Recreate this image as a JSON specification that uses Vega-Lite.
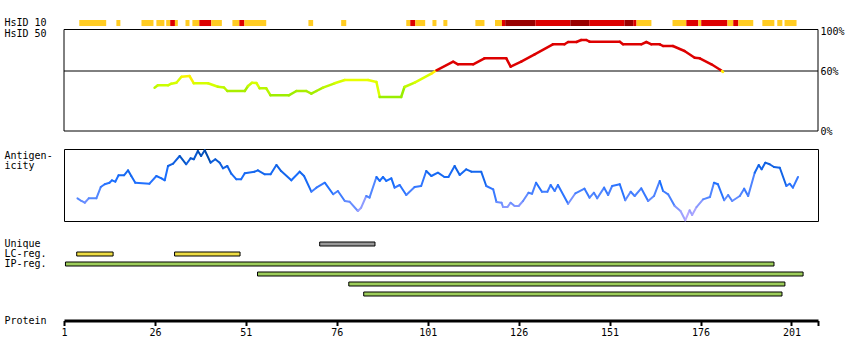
{
  "$schema": "https://vega.github.io/schema/vega-lite/v6.json",
  "padding": {"left": 3, "top": 17, "right": 2, "bottom": 2},
  "bounds": "flush",
  "spacing": 18,
  "datasets": {
    "hsid10": [
      {"track": "HsID 10", "from": 5.2, "to": 12.6, "level": "medium"},
      {"track": "HsID 10", "from": 15.4, "to": 16.5, "level": "medium"},
      {"track": "HsID 10", "from": 22.3, "to": 25.6, "level": "medium"},
      {"track": "HsID 10", "from": 26.4, "to": 28.6, "level": "medium"},
      {"track": "HsID 10", "from": 29.1, "to": 30.2, "level": "medium"},
      {"track": "HsID 10", "from": 30.2, "to": 31.5, "level": "high"},
      {"track": "HsID 10", "from": 31.5, "to": 32.3, "level": "medium"},
      {"track": "HsID 10", "from": 34.4, "to": 35.5, "level": "medium"},
      {"track": "HsID 10", "from": 36.3, "to": 38.2, "level": "medium"},
      {"track": "HsID 10", "from": 38.2, "to": 41.5, "level": "high"},
      {"track": "HsID 10", "from": 41.5, "to": 44.4, "level": "medium"},
      {"track": "HsID 10", "from": 47.3, "to": 49.2, "level": "medium"},
      {"track": "HsID 10", "from": 49.2, "to": 50.6, "level": "high"},
      {"track": "HsID 10", "from": 50.6, "to": 56.6, "level": "medium"},
      {"track": "HsID 10", "from": 68.2, "to": 69.5, "level": "medium"},
      {"track": "HsID 10", "from": 77.2, "to": 78.6, "level": "medium"},
      {"track": "HsID 10", "from": 95.1, "to": 96.2, "level": "medium"},
      {"track": "HsID 10", "from": 96.2, "to": 97.6, "level": "high"},
      {"track": "HsID 10", "from": 97.6, "to": 100.3, "level": "medium"},
      {"track": "HsID 10", "from": 102.3, "to": 103.4, "level": "medium"},
      {"track": "HsID 10", "from": 105.3, "to": 106.4, "level": "medium"},
      {"track": "HsID 10", "from": 114.1, "to": 116.6, "level": "medium"},
      {"track": "HsID 10", "from": 119.5, "to": 121.4, "level": "medium"},
      {"track": "HsID 10", "from": 121.4, "to": 122.3, "level": "high"},
      {"track": "HsID 10", "from": 122.3, "to": 130.6, "level": "very high"},
      {"track": "HsID 10", "from": 130.6, "to": 140.2, "level": "high"},
      {"track": "HsID 10", "from": 140.2, "to": 145.4, "level": "very high"},
      {"track": "HsID 10", "from": 145.4, "to": 155.1, "level": "high"},
      {"track": "HsID 10", "from": 155.1, "to": 157.5, "level": "very high"},
      {"track": "HsID 10", "from": 157.5, "to": 158.4, "level": "high"},
      {"track": "HsID 10", "from": 158.4, "to": 162.5, "level": "medium"},
      {"track": "HsID 10", "from": 168.3, "to": 172.1, "level": "medium"},
      {"track": "HsID 10", "from": 172.1, "to": 175.4, "level": "high"},
      {"track": "HsID 10", "from": 175.4, "to": 176.2, "level": "medium"},
      {"track": "HsID 10", "from": 176.2, "to": 183.4, "level": "high"},
      {"track": "HsID 10", "from": 183.4, "to": 185.0, "level": "medium"},
      {"track": "HsID 10", "from": 185.0, "to": 186.4, "level": "high"},
      {"track": "HsID 10", "from": 186.4, "to": 190.5, "level": "medium"},
      {"track": "HsID 10", "from": 193.0, "to": 196.3, "level": "medium"},
      {"track": "HsID 10", "from": 197.1, "to": 198.5, "level": "medium"},
      {"track": "HsID 10", "from": 199.1, "to": 202.4, "level": "medium"}
    ],
    "hsid50": [
      {"r": 25.9, "v": 43.3}, {"r": 26.8, "v": 45.7}, {"r": 29.6, "v": 45.7}, {"r": 30.5, "v": 47.3},
      {"r": 31.9, "v": 48.3}, {"r": 33.3, "v": 54.3}, {"r": 35.5, "v": 55.0}, {"r": 36.7, "v": 47.7},
      {"r": 40.6, "v": 47.7}, {"r": 43.3, "v": 44.3}, {"r": 45.0, "v": 43.5}, {"r": 45.9, "v": 40.0},
      {"r": 50.7, "v": 40.0}, {"r": 51.6, "v": 45.0}, {"r": 52.7, "v": 48.3}, {"r": 53.9, "v": 48.0},
      {"r": 54.8, "v": 42.7}, {"r": 56.6, "v": 42.7}, {"r": 57.8, "v": 35.7}, {"r": 62.8, "v": 35.7},
      {"r": 64.9, "v": 40.0}, {"r": 67.6, "v": 40.0}, {"r": 69.0, "v": 37.3}, {"r": 70.4, "v": 40.0},
      {"r": 72.2, "v": 43.3}, {"r": 75.4, "v": 47.7}, {"r": 78.2, "v": 51.0}, {"r": 84.6, "v": 51.0},
      {"r": 86.9, "v": 49.0}, {"r": 87.8, "v": 34.0}, {"r": 93.7, "v": 34.0}, {"r": 94.6, "v": 44.0},
      {"r": 97.4, "v": 48.3}, {"r": 102.0, "v": 57.3}, {"r": 103.4, "v": 60.7}, {"r": 108.0, "v": 69.3},
      {"r": 109.3, "v": 66.7}, {"r": 113.5, "v": 66.7}, {"r": 116.6, "v": 72.7}, {"r": 122.6, "v": 72.7},
      {"r": 123.8, "v": 64.3}, {"r": 126.7, "v": 69.3}, {"r": 130.4, "v": 76.7}, {"r": 135.4, "v": 86.7},
      {"r": 138.6, "v": 86.7}, {"r": 139.6, "v": 89.0}, {"r": 141.9, "v": 89.0}, {"r": 143.2, "v": 91.0},
      {"r": 144.6, "v": 91.0}, {"r": 145.5, "v": 89.3}, {"r": 153.8, "v": 89.3}, {"r": 154.7, "v": 86.7},
      {"r": 159.7, "v": 86.7}, {"r": 161.1, "v": 89.0}, {"r": 162.5, "v": 86.7}, {"r": 164.8, "v": 86.7},
      {"r": 165.7, "v": 85.0}, {"r": 168.4, "v": 85.0}, {"r": 171.6, "v": 80.0}, {"r": 174.4, "v": 73.3},
      {"r": 175.8, "v": 72.7}, {"r": 179.0, "v": 66.7}, {"r": 181.5, "v": 61.0}, {"r": 181.9, "v": 60.0},
      {"r": 182.2, "v": 59.0}
    ],
    "antigen": [
      {"r": 4.7, "a": 31.5}, {"r": 5.8, "a": 27.8}, {"r": 6.7, "a": 25.4}, {"r": 7.8, "a": 31.5},
      {"r": 9.9, "a": 31.5}, {"r": 11.1, "a": 47.2}, {"r": 12.2, "a": 51.0}, {"r": 13.5, "a": 53.2},
      {"r": 14.2, "a": 56.5}, {"r": 15.1, "a": 54.6}, {"r": 16.0, "a": 63.5}, {"r": 17.5, "a": 63.5},
      {"r": 18.6, "a": 70.4}, {"r": 19.5, "a": 62.5}, {"r": 20.6, "a": 53.2}, {"r": 24.5, "a": 51.8},
      {"r": 26.4, "a": 62.5}, {"r": 27.8, "a": 59.3}, {"r": 28.7, "a": 56.5}, {"r": 29.6, "a": 76.4},
      {"r": 31.0, "a": 79.6}, {"r": 32.8, "a": 90.3}, {"r": 34.6, "a": 78.8}, {"r": 35.8, "a": 87.1},
      {"r": 36.7, "a": 85.7}, {"r": 37.8, "a": 97.2}, {"r": 38.7, "a": 90.3}, {"r": 39.7, "a": 98.2},
      {"r": 41.3, "a": 81.0}, {"r": 42.6, "a": 85.7}, {"r": 43.8, "a": 81.0}, {"r": 44.7, "a": 73.2},
      {"r": 45.9, "a": 76.4}, {"r": 47.0, "a": 65.7}, {"r": 48.4, "a": 57.9}, {"r": 49.7, "a": 57.9},
      {"r": 50.7, "a": 66.3}, {"r": 53.4, "a": 68.5}, {"r": 54.3, "a": 70.4}, {"r": 56.2, "a": 64.9},
      {"r": 57.8, "a": 64.9}, {"r": 59.4, "a": 77.8}, {"r": 60.7, "a": 69.4}, {"r": 63.5, "a": 56.5},
      {"r": 65.8, "a": 68.5}, {"r": 67.0, "a": 62.5}, {"r": 69.0, "a": 40.7}, {"r": 70.4, "a": 46.3},
      {"r": 72.7, "a": 53.2}, {"r": 75.0, "a": 37.1}, {"r": 76.3, "a": 41.7}, {"r": 78.2, "a": 27.8},
      {"r": 79.5, "a": 26.8}, {"r": 81.8, "a": 13.9}, {"r": 82.7, "a": 18.5}, {"r": 84.1, "a": 34.7},
      {"r": 85.0, "a": 32.4}, {"r": 86.9, "a": 61.1}, {"r": 87.8, "a": 55.6}, {"r": 88.7, "a": 61.1},
      {"r": 89.6, "a": 55.6}, {"r": 91.0, "a": 59.3}, {"r": 91.9, "a": 46.3}, {"r": 93.3, "a": 50.0},
      {"r": 95.1, "a": 36.1}, {"r": 97.4, "a": 47.2}, {"r": 99.2, "a": 48.6}, {"r": 100.6, "a": 69.4},
      {"r": 102.0, "a": 62.5}, {"r": 103.8, "a": 67.1}, {"r": 105.6, "a": 61.1}, {"r": 106.7, "a": 61.1},
      {"r": 108.4, "a": 76.4}, {"r": 109.8, "a": 63.9}, {"r": 111.6, "a": 71.8}, {"r": 113.0, "a": 68.5},
      {"r": 115.7, "a": 68.5}, {"r": 117.1, "a": 48.6}, {"r": 119.0, "a": 44.0}, {"r": 119.9, "a": 26.4},
      {"r": 121.3, "a": 25.4}, {"r": 121.7, "a": 19.4}, {"r": 122.9, "a": 19.4}, {"r": 123.8, "a": 25.4},
      {"r": 124.9, "a": 20.8}, {"r": 126.0, "a": 20.8}, {"r": 127.2, "a": 27.8}, {"r": 128.7, "a": 39.3},
      {"r": 129.7, "a": 37.9}, {"r": 130.8, "a": 53.2}, {"r": 132.4, "a": 40.7}, {"r": 133.9, "a": 40.7},
      {"r": 134.8, "a": 50.0}, {"r": 135.9, "a": 41.7}, {"r": 136.8, "a": 50.0}, {"r": 139.6, "a": 24.0},
      {"r": 141.6, "a": 38.5}, {"r": 144.1, "a": 44.9}, {"r": 145.5, "a": 32.4}, {"r": 146.7, "a": 39.3},
      {"r": 147.6, "a": 31.5}, {"r": 149.5, "a": 46.3}, {"r": 150.6, "a": 36.1}, {"r": 151.7, "a": 48.6},
      {"r": 153.8, "a": 51.0}, {"r": 155.3, "a": 28.8}, {"r": 156.8, "a": 40.7}, {"r": 157.9, "a": 34.7},
      {"r": 159.7, "a": 45.4}, {"r": 161.6, "a": 27.8}, {"r": 163.2, "a": 34.7}, {"r": 164.8, "a": 55.6},
      {"r": 165.7, "a": 41.7}, {"r": 167.1, "a": 37.1}, {"r": 168.9, "a": 20.8}, {"r": 170.5, "a": 13.9},
      {"r": 171.8, "a": 1.0}, {"r": 173.0, "a": 14.9}, {"r": 173.7, "a": 8.3}, {"r": 174.9, "a": 19.4},
      {"r": 176.7, "a": 30.1}, {"r": 178.6, "a": 33.3}, {"r": 179.7, "a": 53.2}, {"r": 180.8, "a": 51.0},
      {"r": 182.5, "a": 28.8}, {"r": 183.6, "a": 36.1}, {"r": 184.7, "a": 27.8}, {"r": 186.8, "a": 34.7},
      {"r": 188.0, "a": 44.9}, {"r": 189.1, "a": 34.7}, {"r": 190.9, "a": 67.1}, {"r": 192.0, "a": 77.8},
      {"r": 192.8, "a": 71.8}, {"r": 193.8, "a": 81.0}, {"r": 195.0, "a": 78.8}, {"r": 196.2, "a": 75.0},
      {"r": 197.8, "a": 74.0}, {"r": 199.6, "a": 48.6}, {"r": 200.5, "a": 51.8}, {"r": 201.4, "a": 46.3},
      {"r": 202.8, "a": 61.1}
    ],
    "tracks": [
      {"track": "Unique", "row": "Unique", "from": 71.3, "to": 86.5},
      {"track": "LC-reg.", "row": "LC-reg.", "from": 4.5, "to": 14.5},
      {"track": "LC-reg.", "row": "LC-reg.", "from": 31.4, "to": 49.4},
      {"track": "IP-reg.", "row": "IP-reg. 1", "from": 1.4, "to": 196.2},
      {"track": "IP-reg.", "row": "IP-reg. 2", "from": 54.2, "to": 204.2},
      {"track": "IP-reg.", "row": "IP-reg. 3", "from": 79.3, "to": 199.2},
      {"track": "IP-reg.", "row": "IP-reg. 4", "from": 83.4, "to": 198.4}
    ]
  },
  "vconcat": [
    {
      "width": 754,
      "height": 111,
      "layer": [
        {
          "data": {"name": "hsid10"},
          "mark": {"type": "rect"},
          "encoding": {
            "x": {"field": "from", "type": "quantitative", "scale": {"domain": [1, 208.3], "nice": false, "zero": false}, "axis": null},
            "x2": {"field": "to"},
            "y": {
              "field": "track", "type": "nominal",
              "scale": {"type": "band", "domain": ["HsID 10", "HsID 50"], "range": [0, 17], "paddingInner": 0.45, "paddingOuter": 0},
              "axis": {"orient": "left", "title": null, "labelAlign": "left", "labelBaseline": "middle", "labelPadding": 60, "ticks": false, "tickSize": 0, "domain": false}
            },
            "fill": {
              "field": "level", "type": "nominal",
              "scale": {"domain": ["medium", "high", "very high"], "range": ["#ffcc22", "#dd0000", "#990000"]},
              "legend": null
            }
          }
        },
        {
          "layer": [
            {
              "data": {"values": [{}]},
              "mark": {"type": "rect", "fill": null, "fillOpacity": 0, "stroke": "black", "strokeWidth": 1},
              "encoding": {
                "x": {"datum": 1, "type": "quantitative", "scale": {"domain": [1, 208.3], "nice": false, "zero": false}, "axis": null},
                "x2": {"datum": 208.3},
                "y": {"datum": 101.5, "type": "quantitative", "scale": {"domain": [0, 111], "nice": false, "zero": true},
                  "axis": {"orient": "right", "title": null, "values": [0, 60, 100], "labelExpr": "datum.value + '%'", "ticks": false, "tickSize": 0, "domain": false, "labelPadding": 2, "labelAlign": "left"}},
                "y2": {"datum": 0}
              }
            },
            {
              "data": {"values": [{}]},
              "mark": {"type": "rule", "stroke": "black", "strokeWidth": 1},
              "encoding": {
                "y": {"datum": 60, "type": "quantitative"}
              }
            },
            {
              "data": {"name": "hsid50"},
              "transform": [
                {"window": [{"op": "lead", "field": "r", "as": "r2"}, {"op": "lead", "field": "v", "as": "v2"}], "sort": [{"field": "r", "order": "ascending"}]},
                {"filter": "datum.r2 != null"}
              ],
              "mark": {"type": "rule", "strokeWidth": 2.5, "strokeCap": "round"},
              "encoding": {
                "x": {"field": "r", "type": "quantitative"},
                "x2": {"field": "r2"},
                "y": {"field": "v", "type": "quantitative"},
                "y2": {"field": "v2"},
                "color": {
                  "field": "v", "type": "quantitative",
                  "scale": {"domain": [34, 40, 46, 52, 56, 60.4, 60.5, 100], "range": ["#99ee00", "#aaee00", "#ccff00", "#eeff00", "#ffee00", "#ffee00", "#dd0000", "#dd0000"]},
                  "legend": null
                }
              }
            }
          ]
        }
      ],
      "resolve": {"scale": {"y": "independent"}, "axis": {"y": "independent"}}
    },
    {
      "width": 754,
      "height": 72,
      "view": {"stroke": "black", "strokeWidth": 1},
      "data": {"name": "antigen"},
      "transform": [
        {"window": [{"op": "lead", "field": "r", "as": "r2"}, {"op": "lead", "field": "a", "as": "a2"}], "sort": [{"field": "r", "order": "ascending"}]},
        {"filter": "datum.r2 != null"}
      ],
      "mark": {"type": "rule", "strokeWidth": 2, "strokeCap": "round"},
      "encoding": {
        "x": {"field": "r", "type": "quantitative", "scale": {"domain": [1, 208.3], "nice": false, "zero": false}, "axis": null},
        "x2": {"field": "r2"},
        "y": {"field": "a", "type": "quantitative", "scale": {"domain": [0, 100], "nice": false},
          "axis": {"title": ["Antigen-", "icity"], "titleAngle": 0, "titleAlign": "left", "titleBaseline": "top", "titleX": -60, "titleY": 1, "titleLineHeight": 10, "labels": false, "ticks": false, "domain": false}},
        "y2": {"field": "a2"},
        "color": {
          "field": "a", "type": "quantitative",
          "scale": {"domain": [0, 15, 30, 55, 80, 100], "range": ["#bbaaff", "#99a0ff", "#5588ff", "#1a6fff", "#1060e0", "#0048a8"]},
          "legend": null
        }
      }
    },
    {
      "width": 754,
      "height": 60,
      "data": {"name": "tracks"},
      "mark": {"type": "bar", "size": 4, "stroke": "black", "strokeWidth": 1, "cornerRadius": 0},
      "encoding": {
        "x": {
          "field": "from", "type": "quantitative",
          "scale": {"domain": [1, 208.3], "nice": false, "zero": false},
          "axis": {
            "values": [1, 26, 51, 76, 101, 126, 151, 176, 201, 208.3],
            "labelExpr": "datum.value > 205 ? '' : datum.label",
            "offset": 21.5, "domainWidth": 3, "tickWidth": 2, "tickSize": 5, "labelPadding": 2,
            "labelFlush": false, "labelOverlap": false,
            "title": "Protein", "titleX": -60, "titleY": 0, "titleAlign": "left", "titleBaseline": "middle", "titleAngle": 0
          }
        },
        "x2": {"field": "to"},
        "y": {
          "field": "row", "type": "nominal",
          "scale": {"domain": ["Unique", "LC-reg.", "IP-reg. 1", "IP-reg. 2", "IP-reg. 3", "IP-reg. 4"], "paddingInner": 0, "paddingOuter": 0},
          "axis": {"title": null, "labelExpr": "datum.value == 'IP-reg. 1' ? 'IP-reg.' : (indexof(datum.value, 'IP-reg.') == 0 ? '' : datum.label)", "labelAlign": "left", "labelBaseline": "middle", "labelPadding": 60, "ticks": false, "tickSize": 0, "domain": false}
        },
        "fill": {
          "field": "track", "type": "nominal",
          "scale": {"domain": ["Unique", "LC-reg.", "IP-reg."], "range": ["#999999", "#eedd44", "#9ccc5a"]},
          "legend": null
        }
      }
    }
  ],
  "resolve": {"scale": {"color": "independent", "fill": "independent"}},
  "config": {
    "font": "DejaVu Sans Mono",
    "view": {"stroke": null},
    "axis": {
      "grid": false,
      "labelFont": "DejaVu Sans Mono", "titleFont": "DejaVu Sans Mono",
      "labelFontSize": 10, "titleFontSize": 10, "titleFontWeight": "normal",
      "labelColor": "black", "titleColor": "black", "tickColor": "black", "domainColor": "black"
    }
  }
}
